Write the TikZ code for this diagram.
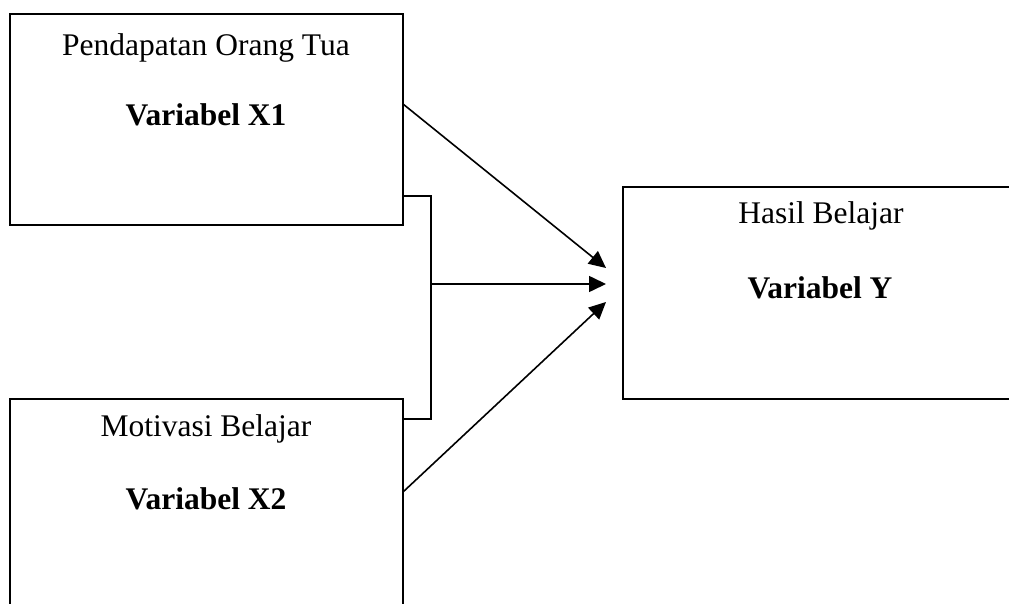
\documentclass[tikz,border=0pt]{standalone}
\usepackage{fontspec}
\setmainfont{Liberation Serif}
\usetikzlibrary{arrows.meta}
\begin{document}
\begin{tikzpicture}[x=1pt,y=-1pt,
  box/.style={draw=black,line width=1.6pt,rectangle,inner sep=0pt},
  lbl/.style={anchor=base,inner sep=0pt,font=\fontsize{31.5}{36}\selectfont},
  bold/.style={lbl,font=\fontsize{31.5}{36}\selectfont\bfseries},
  link/.style={line width=1.6pt},
  arr/.style={line width=1.6pt,-{Triangle[length=17pt,width=16pt]}}]
\useasboundingbox (0,0) rectangle (1009,604);
\clip (0,0) rectangle (1009,604);

% variable boxes
\node[box,minimum width=393pt,minimum height=211pt] (x1) at (206.5,119.5) {};
\node[box,minimum width=393pt,minimum height=211pt] (x2) at (206.5,504.5) {};
\node[box,minimum width=393pt,minimum height=212pt] (y) at (819.5,293) {};

% labels
\node[lbl]  (x1t) at (206,56)  {Pendapatan Orang Tua};
\node[bold] (x1v) at (206,126) {Variabel X1};
\node[lbl]  (x2t) at (206,436) {Motivasi Belajar};
\node[bold] (x2v) at (206,509) {Variabel X2};
\node[lbl]  (yt)  at (821,224) {Hasil Belajar};
\node[bold] (yv)  at (820,298) {Variabel Y};

% connector end points
\coordinate (a1) at (403,104);
\coordinate (a3) at (403,492);
\coordinate (b1) at (403,196);
\coordinate (b2) at (431,196);
\coordinate (b3) at (431,419);
\coordinate (b4) at (403,419);
\coordinate (bm) at (431,284);
\coordinate (t1) at (606,268);
\coordinate (t2) at (606,284);
\coordinate (t3) at (606,302);

% joint bracket and arrows
\draw[link] (b1) -- (b2) -- (b3) -- (b4);
\draw[arr] (a1) -- (t1);
\draw[arr] (bm) -- (t2);
\draw[arr] (a3) -- (t3);
\end{tikzpicture}
\end{document}
